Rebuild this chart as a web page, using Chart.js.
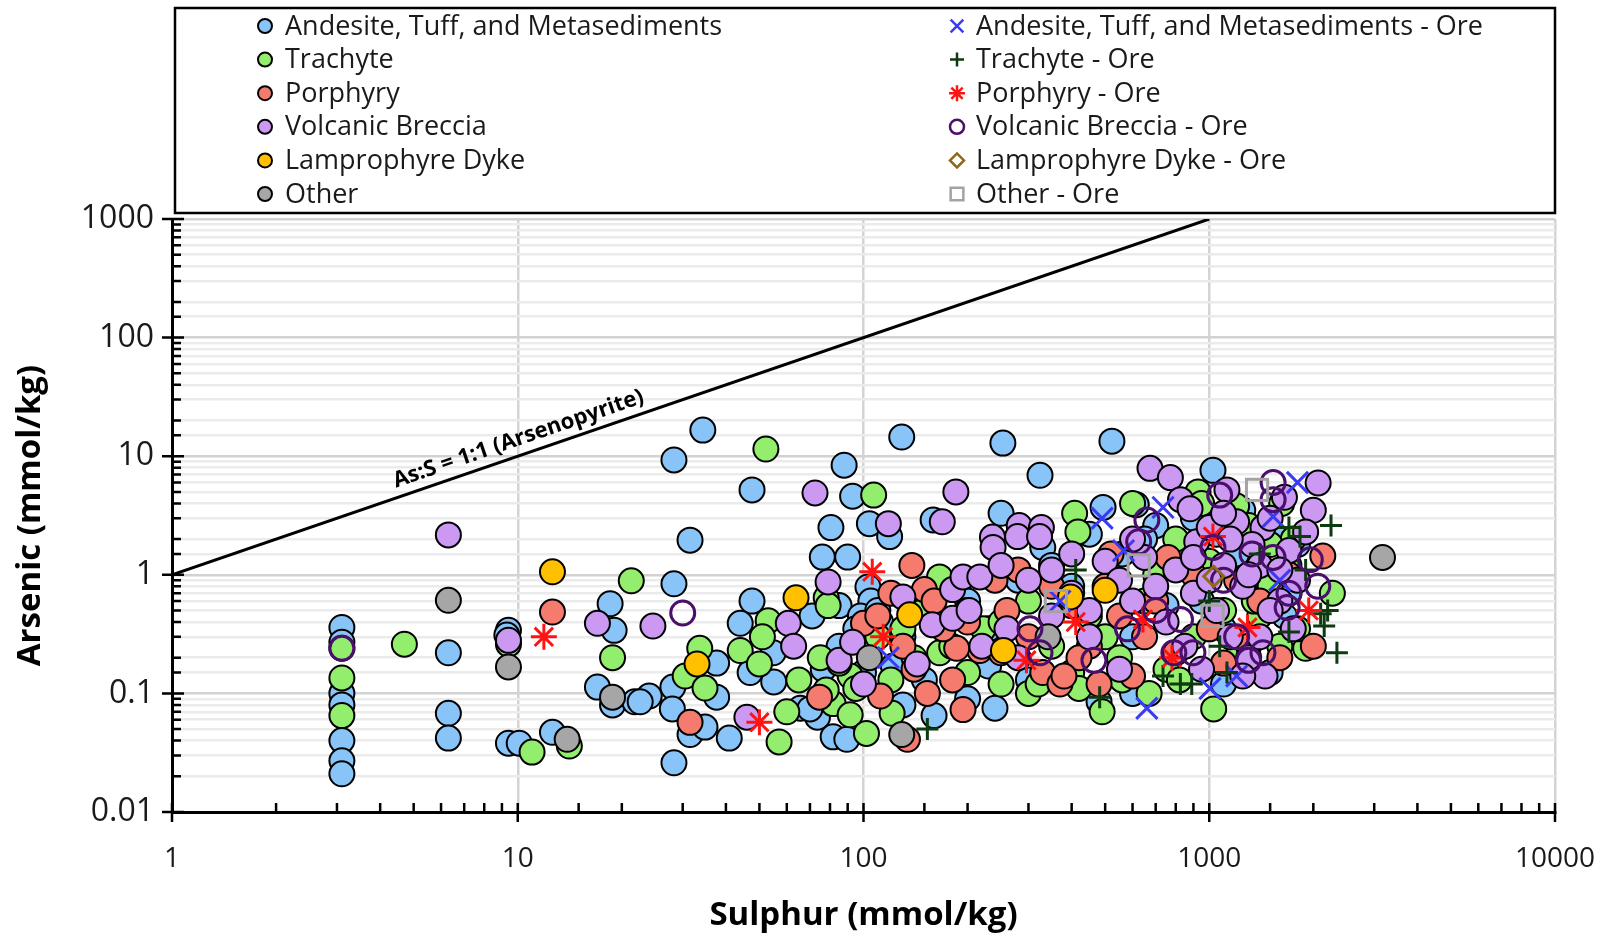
<!DOCTYPE html>
<html>
<head>
<meta charset="utf-8">
<script src="https://cdn.jsdelivr.net/npm/chart.js@4.4.0/dist/chart.umd.min.js"></script>
<style>
  html, body { margin: 0; padding: 0; background: #fff; }
</style>
</head>
<body>
<canvas id="myChart" width="1611" height="936"></canvas>
<script>
// [Sulphur, Arsenic] in mmol/kg
const andesite = [
  [3.1,0.36],[3.1,0.27],[3.1,0.1],[3.1,0.08],[3.1,0.04],[3.1,0.027],[3.1,0.021],
  [6.3,0.22],[6.3,0.068],[6.3,0.042],
  [9.4,0.34],[9.3,0.31],[9.4,0.038],[10.1,0.038],
  [12.6,0.047],[18.5,0.57],[19,0.34],[17,0.113],[18.8,0.08],[21.8,0.085],[24,0.095],[22.6,0.085],
  [28.1,0.113],[28,0.074],[31.5,0.045],[34.8,0.052],[28.3,0.026],
  [34.3,16.6],[28.3,9.3],[47.6,5.2],[31.5,1.96],[28.3,0.84],
  [87.9,8.4],[129,14.5],[93,4.6],[80.5,2.5],[104,2.7],[119,2.1],[159,2.9],[76,1.41],[90,1.41],[103,0.79],
  [47.6,0.6],[44,0.39],[54.8,0.22],[47,0.15],[55,0.125],[37.6,0.18],[37.6,0.093],[40.9,0.042],
  [65.7,0.075],[73.6,0.063],[81.7,0.043],[89.5,0.041],[122,0.17],[76.5,0.16],[70,0.074],
  [253,12.9],[523,13.4],[324,6.9],[1025,7.6],[250,3.3],[330,1.7],[493,3.7],[615,3.9],
  [85,0.55],[105,0.6],[98,0.45],[112,0.4],[71,0.45],
  [110,0.5],[95,0.35],[85,0.25],[100,0.15],[150,0.13],[130,0.3],[160,0.45],[200,0.6],[230,0.35],
  [280,0.9],[350,1.2],[400,0.8],[450,2.2],[560,1.5],[700,2.6],[800,1.2],[950,0.6],[1100,0.35],
  [1200,1.5],[1400,1.0],[1600,2.0],[1700,0.7],[1800,1.8],[1500,0.15],[600,0.1],[480,0.085],
  [300,0.13],[200,0.09],[240,0.075],[130,0.08],[160,0.065],[1300,0.3],[1650,0.45],[750,0.55],
  [900,3.0],[600,0.3],[230,0.17],[1100,0.12],
  [650,2.0],[850,1.6],[1050,2.2],[1250,3.5],[1350,2.2]
]
const trachyte = [
  [3.1,0.24],[3.1,0.135],[3.1,0.065],[4.7,0.26],[9.4,0.26],[11,0.032],[14.1,0.036],[21.3,0.89],[18.8,0.2],
  [52.2,11.5],[107,4.7],[78,0.64],[166,0.96],[53,0.41],[51,0.3],[44,0.23],[50,0.177],[33.6,0.24],
  [30.5,0.14],[34.8,0.111],[57,0.039],[60,0.07],[81.7,0.082],[91.5,0.066],[102,0.046],[166,0.22],
  [222,0.35],[121,0.068],[78,0.107],[91.5,0.14],[79,0.55],
  [408,3.3],[417,2.3],[928,5.0],[1620,4.0],[2270,0.7],[1900,0.24],[1030,0.074],[670,0.1],[490,0.07],
  [130,0.35],[150,0.5],[180,0.25],[200,0.15],[250,0.12],[300,0.1],[350,0.25],[400,0.15],[450,0.45],
  [500,0.3],[550,0.2],[650,0.6],[700,1.0],[800,2.0],[900,0.3],[1000,1.3],[1100,0.5],[1300,2.6],
  [1500,0.8],[1700,1.2],[1800,0.35],[600,4.0],[750,0.16],[1200,0.2],[300,0.6],[250,0.4],[200,0.5],
  [140,0.2],[120,0.13],[110,0.3],[95,0.11],[85,0.18],[65,0.13],[75,0.2],[820,0.13],[1400,0.45],[950,4.0],
  [1600,0.25],[1350,0.6],[1750,2.0],[1200,3.8],[1500,1.8],[320,0.12],[420,0.11],[560,0.13]
]
const porphyry = [
  [12.6,0.485],[31.5,0.057],[74.6,0.093],[138,1.2],[150,0.75],[100,0.39],[112,0.095],[153,0.1],
  [181,0.13],[194,0.073],[217,0.23],[186,0.24],[134,0.041],[2130,1.44],
  [120,0.7],[110,0.45],[160,0.6],[200,0.4],[240,0.9],[260,0.5],[300,0.3],[330,0.15],[370,0.12],
  [400,0.55],[450,0.25],[500,0.8],[550,0.45],[600,0.14],[650,0.3],[700,0.6],[800,0.22],[900,1.0],
  [1000,0.35],[1100,0.18],[1200,0.9],[1300,0.25],[1400,0.6],[1600,0.2],[1700,1.0],[280,1.1],
  [350,0.8],[130,0.25],[140,0.16],[170,0.35],[250,0.22],[420,0.2],[520,1.5],[760,1.4],[2000,0.25],
  [480,0.12],[380,0.14]
]
const breccia = [
  [6.3,2.17],[9.4,0.28],[17,0.39],[24.6,0.37],[46,0.063],[72.4,4.9],[185,5.0],[118,2.7],[169,2.8],
  [79,0.87],[130,0.65],[181,0.75],[194,0.96],[217,0.96],[158,0.38],[181,0.43],[202,0.5],[60.6,0.39],
  [62.8,0.25],[85,0.19],[93,0.27],[100,0.12],[143,0.177],
  [674,7.9],[772,6.6],[2065,5.95],[236,2.08],[282,2.6],[327,2.5],[826,4.3],[880,3.6],[1125,5.2],
  [2000,3.5],[1430,2.5],[1330,1.8],[920,1.9],[1450,0.14],[237,1.7],[279,2.1],[323,2.1],
  [250,1.2],[300,0.9],[350,1.1],[400,0.7],[450,0.5],[500,1.3],[550,0.9],[600,0.6],[650,1.4],
  [700,0.8],[750,0.4],[800,1.1],[850,0.25],[900,0.7],[1000,2.5],[1050,0.5],[1100,1.2],[1150,0.3],
  [1200,2.8],[1250,0.8],[1300,0.2],[1400,1.2],[1500,3.0],[1600,0.6],[1700,1.6],[1800,0.9],[1900,2.3],
  [600,2.0],[450,0.3],[350,0.45],[260,0.35],[280,0.2],[220,0.25],[550,0.16],[950,0.16],[1250,0.14],
  [1500,0.5],[1000,0.9],[400,1.5],
  [1100,3.3],[1300,1.0],[1600,1.1],[1750,0.35],[1400,0.3],[1150,2.0],[900,1.4],[1650,4.5]
]
const lamprophyre = [[12.6,1.06],[63.8,0.64],[33,0.177],[136,0.46],[397,0.65],[500,0.74],[254,0.23]]
const other = [[6.3,0.61],[9.4,0.167],[13.9,0.041],[18.8,0.093],[104,0.2],[129,0.045],[342,0.3],[3170,1.4]]

const andesiteOre = [[490,3.0],[735,3.7],[1800,6.0],[1530,3.1],[565,1.6],[1005,0.11],[660,0.075],
  [1200,0.14],[370,0.6],[118,0.2],[1600,0.9]]
const trachyteOre = [[153,0.05],[482,0.093],[411,1.1],[1700,2.5],[1830,2.1],[1072,0.25],[1125,0.15],
  [825,0.12],[735,0.14],[2100,0.47],[2150,0.37],[1700,0.33],[2250,2.6],[2340,0.22],[2200,0.5],
  [1400,1.5],[1000,0.6],[890,0.12],[1900,1.1]]
const porphyryOre = [[11.9,0.3],[106,1.06],[50,0.057],[114,0.3],[411,0.4],[296,0.19],[780,0.2],
  [643,0.42],[1290,0.36],[1940,0.5],[1025,2.1]]
const brecciaOre = [[3.1,0.24],[30,0.476],[660,2.9],[1072,4.7],[1530,6.0],[1530,4.3],[1960,1.34],
  [1530,1.4],[1330,1.5],[1025,1.7],[625,1.9],[303,0.35],[324,0.22],[464,0.19],[580,0.35],[826,0.42],
  [790,0.22],[897,0.22],[1430,0.22],[1680,0.53],[2060,0.8],[1200,0.3],[700,0.5],[1100,0.9],
  [1700,0.7],[1300,0.19]]
const lamprophyreOre = [[1030,0.97]]
const otherOre = [[1375,5.2],[625,1.2],[1022,0.45],[360,0.6]]

const ratioLine = [[1,1],[1000,1000]]

const seriesNames = [
  "Andesite, Tuff, and Metasediments", "Trachyte", "Porphyry", "Volcanic Breccia",
  "Lamprophyre Dyke", "Other",
  "Andesite, Tuff, and Metasediments - Ore", "Trachyte - Ore", "Porphyry - Ore",
  "Volcanic Breccia - Ore", "Lamprophyre Dyke - Ore", "Other - Ore"
]
const seriesData = [andesite, trachyte, porphyry, breccia, lamprophyre, other,
  andesiteOre, trachyteOre, porphyryOre, brecciaOre, lamprophyreOre, otherOre]

const xTickLabels = [1, 10, 100, 1000, 10000]
const yTickLabels = [0.01, 0.1, 1, 10, 100, 1000]
const lineLabel = "As:S = 1:1 (Arsenopyrite)"

// marker looks, same order as seriesNames
const looks = [
  {style: 'circle', fill: '#88C4F8', line: '#000000', r: 12.5, w: 2, lr: 7},
  {style: 'circle', fill: '#92EE6C', line: '#000000', r: 12.5, w: 2, lr: 7},
  {style: 'circle', fill: '#F47B6D', line: '#000000', r: 12.5, w: 2, lr: 7},
  {style: 'circle', fill: '#CB98F2', line: '#000000', r: 12.5, w: 2, lr: 7},
  {style: 'circle', fill: '#FFC000', line: '#000000', r: 12.5, w: 2, lr: 7},
  {style: 'circle', fill: '#A6A6A6', line: '#000000', r: 12.5, w: 2, lr: 7},
  {style: 'crossRot', fill: 'rgba(0,0,0,0)', line: '#3B3BF2', r: 15, w: 3, lr: 9},
  {style: 'cross', fill: 'rgba(0,0,0,0)', line: '#0E3A10', r: 11, w: 3, lr: 7},
  {style: 'star', fill: 'rgba(0,0,0,0)', line: '#FF1414', r: 13, w: 3, lr: 8},
  {style: 'circle', fill: 'rgba(0,0,0,0)', line: '#4A0E6C', r: 12, w: 3, lr: 7},
  {style: 'rectRot', fill: 'rgba(0,0,0,0)', line: '#8C6A1A', r: 10, w: 3, lr: 7},
  {style: 'rect', fill: 'rgba(0,0,0,0)', line: '#A3A3A3', r: 15, w: 3, lr: 9}
]

function isPow10(v) {
  const l = Math.log10(v)
  return Math.abs(l - Math.round(l)) < 1e-6
}
function pickLabel(list, v) {
  const hit = list.find(t => Math.abs(t - v) / t < 1e-6)
  return hit === undefined ? '' : String(hit)
}

const datasets = seriesNames.map((name, i) => ({
  label: name,
  data: seriesData[i].map(p => ({x: p[0], y: p[1]})),
  pointStyle: looks[i].style,
  pointRadius: looks[i].r,
  pointHoverRadius: looks[i].r,
  pointBackgroundColor: looks[i].fill,
  pointBorderColor: looks[i].line,
  pointBorderWidth: looks[i].w,
  order: seriesNames.length - i + 1
}))
datasets.push({
  label: lineLabel,
  data: ratioLine.map(p => ({x: p[0], y: p[1]})),
  showLine: true,
  pointRadius: 0,
  borderColor: '#000000',
  borderWidth: 3,
  order: 50
})

// legend box drawn by hand (two columns like the original)
const legendBox = {
  id: 'legendBox',
  afterDraw(chart) {
    const ctx = chart.ctx
    ctx.save()
    ctx.fillStyle = '#ffffff'
    ctx.fillRect(175, 8, 1380, 205)
    ctx.strokeStyle = '#000000'
    ctx.lineWidth = 2.5
    ctx.strokeRect(175, 8, 1380, 205)
    ctx.font = '27px "Open Sans"'
    ctx.textBaseline = 'middle'
    seriesNames.forEach((name, i) => {
      const col = i < 6 ? 0 : 1
      const row = i % 6
      const y = 26 + row * 33.6
      const mx = col === 0 ? 265 : 957
      const tx = col === 0 ? 285 : 976
      const lk = looks[i]
      ctx.fillStyle = lk.fill
      ctx.strokeStyle = lk.line
      ctx.lineWidth = lk.w === 2 ? 2 : 2.5
      Chart.helpers.drawPoint(ctx, {pointStyle: lk.style, radius: lk.lr, rotation: 0, borderWidth: ctx.lineWidth}, mx, y)
      ctx.fillStyle = '#1a1a1a'
      ctx.fillText(name, tx, y + 1)
    })
    ctx.restore()
  }
}

// tick marks that cross the axes, and minor ticks inside
const axisTicks = {
  id: 'axisTicks',
  afterDraw(chart) {
    const ctx = chart.ctx
    const xs = chart.scales.x, ys = chart.scales.y
    const area = chart.chartArea
    ctx.save()
    ctx.strokeStyle = '#000000'
    ctx.lineWidth = 2.5
    ctx.beginPath()
    ys.ticks.forEach(t => {
      const p = ys.getPixelForValue(t.value)
      if (isPow10(t.value)) { ctx.moveTo(area.left - 10, p); ctx.lineTo(area.left + 12, p) }
      else { ctx.moveTo(area.left, p); ctx.lineTo(area.left + 9, p) }
    })
    xs.ticks.forEach(t => {
      const p = xs.getPixelForValue(t.value)
      if (isPow10(t.value)) { ctx.moveTo(p, area.bottom + 10); ctx.lineTo(p, area.bottom - 9) }
      else { ctx.moveTo(p, area.bottom); ctx.lineTo(p, area.bottom - 9) }
    })
    ctx.stroke()
    ctx.restore()
  }
}

// label written along the 1:1 line
const lineText = {
  id: 'lineText',
  afterDatasetsDraw(chart) {
    const ctx = chart.ctx
    const xs = chart.scales.x, ys = chart.scales.y
    const a = [xs.getPixelForValue(ratioLine[0][0]), ys.getPixelForValue(ratioLine[0][1])]
    const b = [xs.getPixelForValue(ratioLine[1][0]), ys.getPixelForValue(ratioLine[1][1])]
    const ang = Math.atan2(b[1] - a[1], b[0] - a[0])
    const at = 10.4
    ctx.save()
    ctx.translate(xs.getPixelForValue(at), ys.getPixelForValue(at))
    ctx.rotate(ang)
    ctx.font = 'bold 22px "Open Sans"'
    ctx.fillStyle = '#000000'
    ctx.textAlign = 'center'
    ctx.textBaseline = 'middle'
    ctx.fillText(lineLabel, 0, -16)
    ctx.restore()
  }
}

const ctx = document.getElementById('myChart').getContext('2d')
const myChart = new Chart(ctx, {
  type: 'scatter',
  data: { datasets: datasets },
  options: {
    responsive: false,
    devicePixelRatio: 1,
    animation: false,
    events: [],
    layout: { padding: { top: 219, right: 56, left: 0, bottom: 0 } },
    plugins: { legend: { display: false }, tooltip: { enabled: false } },
    scales: {
      x: {
        type: 'logarithmic',
        min: 1,
        max: 10000,
        afterFit: s => { s.height = 124; s.paddingLeft = 0; s.paddingRight = 0 },
        border: { display: true, color: '#000000', width: 3 },
        grid: {
          drawTicks: false,
          color: c => (c.tick && isPow10(c.tick.value)) ? '#d4d4d4' : 'rgba(0,0,0,0)',
          lineWidth: 2.5
        },
        ticks: {
          autoSkip: false,
          maxRotation: 0,
          padding: 30,
          color: '#1a1a1a',
          font: { family: '"Open Sans"', size: 28 },
          callback: v => pickLabel(xTickLabels, v)
        },
        title: {
          display: true,
          text: 'Sulphur (mmol/kg)',
          color: '#000000',
          font: { family: '"Open Sans"', size: 33, weight: 'bold' },
          padding: { top: 0, bottom: 1 }
        }
      },
      y: {
        type: 'logarithmic',
        min: 0.01,
        max: 1000,
        afterFit: s => { s.width = 172; s.paddingTop = 0; s.paddingBottom = 0 },
        border: { display: true, color: '#000000', width: 3 },
        grid: {
          drawTicks: false,
          color: c => (c.tick && isPow10(c.tick.value)) ? '#d2d2d2' : '#ebebeb',
          lineWidth: 2.5
        },
        ticks: {
          autoSkip: false,
          padding: 18,
          color: '#1a1a1a',
          font: { family: '"Open Sans"', size: 32 },
          callback: v => pickLabel(yTickLabels, v)
        },
        title: {
          display: true,
          text: 'Arsenic (mmol/kg)',
          color: '#000000',
          font: { family: '"Open Sans"', size: 33, weight: 'bold' },
          padding: { top: 11, bottom: 0 }
        }
      }
    }
  },
  plugins: [legendBox, axisTicks, lineText]
})
</script>
</body>
</html>
